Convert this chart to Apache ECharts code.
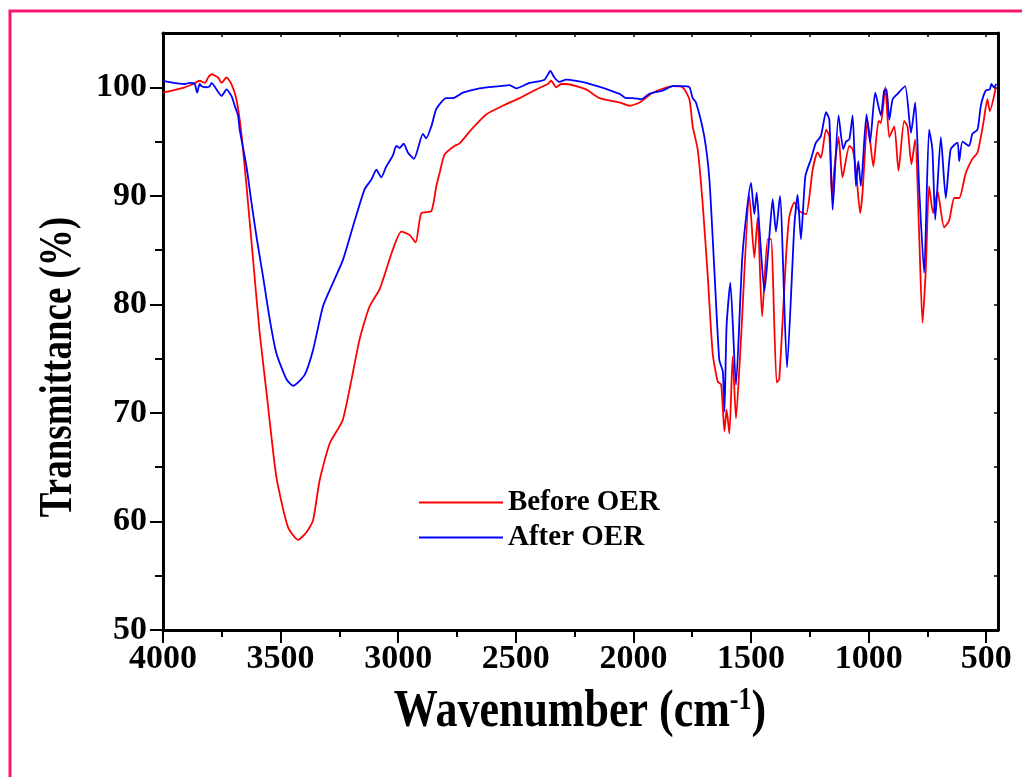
<!DOCTYPE html>
<html>
<head>
<meta charset="utf-8">
<title>FTIR before / after OER</title>
<script src="https://cdn.jsdelivr.net/npm/echarts@6/dist/echarts.min.js"></script>
<style>
  html, body { margin: 0; padding: 0; background: #fff; }
  #chart { width: 1022px; height: 777px; }
</style>
</head>
<body>
<div id="chart"></div>
<script>
// wavenumber (cm-1) and transmittance (%)
const beforeWn = [4000, 3907, 3872, 3844, 3822, 3808, 3794, 3766, 3751, 3730, 3709, 3688, 3667, 3645, 3617, 3589, 3560, 3518, 3469, 3426,
  3390, 3362, 3334, 3291, 3235, 3164, 3122, 3079, 3022, 2987, 2952, 2926, 2902, 2859, 2838, 2824, 2803, 2760, 2740, 2697,
  2668, 2626, 2555, 2484, 2413, 2364, 2350, 2328, 2307, 2286, 2201, 2144, 2059, 2017, 1974, 1918, 1833, 1791, 1762, 1748,
  1727, 1706, 1684, 1663, 1642, 1627, 1613, 1604, 1592, 1578, 1564, 1542, 1507, 1486, 1472, 1453, 1429, 1415, 1391, 1380,
  1351, 1337, 1316, 1295, 1266, 1238, 1217, 1203, 1181, 1167, 1156, 1146, 1128, 1111, 1082, 1068, 1054, 1036, 1026, 1005,
  997, 980, 958, 948, 929, 912, 891, 873, 849, 835, 818, 802, 785, 771, 757, 743, 726, 707, 679, 658,
  636, 615, 587, 559, 537, 513, 495, 485, 459];
const beforeT = [99.5, 100.0, 100.3, 100.6, 100.4, 100.9, 101.2, 100.9, 100.4, 100.9, 100.3, 98.9, 95.8, 90.9, 84.1, 77.4, 71.9, 64.1, 59.5, 58.3,
  59.0, 60.1, 63.8, 67.2, 69.4, 76.8, 79.8, 81.4, 85.1, 86.7, 86.4, 85.7, 88.4, 88.6, 90.9, 92.1, 93.8, 94.6, 94.8, 95.9,
  96.6, 97.5, 98.3, 99.0, 99.8, 100.3, 100.6, 100.0, 100.3, 100.3, 99.8, 99.0, 98.6, 98.3, 98.6, 99.5, 100.1, 100.0, 98.9, 96.4,
  94.3, 89.4, 82.6, 75.5, 72.9, 72.6, 68.3, 70.3, 68.1, 75.2, 69.5, 77.1, 90.0, 84.3, 88.0, 78.9, 86.0, 86.0, 72.8, 73.1,
  84.4, 88.1, 89.4, 88.6, 88.3, 92.4, 94.0, 93.5, 96.1, 95.5, 90.0, 92.4, 95.4, 91.7, 94.6, 94.3, 92.4, 88.4, 90.3, 97.0,
  95.8, 92.7, 96.9, 96.7, 100.0, 95.4, 96.4, 92.3, 96.9, 96.4, 92.9, 95.2, 86.3, 78.3, 83.2, 90.9, 88.4, 90.4, 87.1, 87.7,
  89.8, 89.8, 92.1, 93.4, 94.0, 96.6, 98.9, 97.8, 100.0];

const afterWn = [4000, 3907, 3886, 3865, 3855, 3844, 3836, 3815, 3801, 3794, 3751, 3730, 3709, 3695, 3681, 3674, 3645, 3624, 3603, 3575,
  3546, 3518, 3475, 3447, 3398, 3362, 3320, 3277, 3235, 3192, 3143, 3114, 3093, 3072, 3051, 3023, 3008, 2994, 2977, 2959,
  2933, 2895, 2881, 2859, 2838, 2796, 2768, 2725, 2654, 2569, 2527, 2498, 2442, 2378, 2353, 2336, 2315, 2286, 2201, 2059,
  2031, 2003, 1967, 1932, 1876, 1833, 1791, 1762, 1748, 1734, 1699, 1677, 1656, 1635, 1620, 1613, 1604, 1588, 1564, 1536,
  1500, 1486, 1476, 1465, 1443, 1422, 1408, 1394, 1377, 1347, 1316, 1302, 1288, 1269, 1245, 1224, 1203, 1181, 1167, 1153,
  1128, 1108, 1096, 1082, 1068, 1054, 1044, 1033, 1009, 994, 972, 948, 934, 924, 912, 898, 877, 845, 820, 802,
  785, 764, 743, 729, 717, 693, 672, 651, 622, 615, 601, 573, 559, 537, 523, 502, 485, 478, 467, 457];
const afterT = [100.6, 100.3, 100.4, 100.3, 99.5, 100.3, 100.1, 100.0, 100.1, 100.4, 99.2, 99.8, 99.2, 98.3, 97.4, 96.1, 92.7, 89.4, 86.3, 82.6,
  78.6, 75.5, 73.1, 72.5, 73.5, 75.8, 79.8, 82.0, 84.1, 87.2, 90.6, 91.5, 92.4, 91.7, 92.7, 93.7, 94.6, 94.4, 94.8, 94.0,
  93.4, 95.7, 95.3, 96.4, 98.0, 99.0, 99.0, 99.5, 99.9, 100.1, 100.2, 99.9, 100.4, 100.7, 101.5, 100.9, 100.5, 100.7, 100.4, 99.4,
  99.0, 99.0, 98.9, 99.4, 99.7, 100.1, 100.1, 100.0, 99.0, 98.6, 95.5, 91.5, 83.2, 74.9, 73.8, 70.1, 78.0, 82.0, 72.6, 84.7,
  91.2, 88.3, 90.3, 87.2, 81.2, 86.3, 89.7, 86.7, 90.0, 74.2, 87.2, 90.1, 86.0, 91.8, 93.4, 94.9, 95.5, 97.7, 97.0, 88.7,
  97.4, 94.3, 95.0, 95.2, 97.4, 90.9, 93.2, 90.9, 97.5, 94.9, 99.5, 97.4, 99.7, 99.8, 97.0, 98.9, 99.4, 100.1, 95.8, 98.6,
  90.6, 82.9, 96.1, 94.3, 87.8, 95.4, 89.8, 94.3, 94.9, 93.2, 95.0, 94.6, 95.7, 96.1, 98.3, 99.7, 99.8, 100.3, 100.0, 100.3];

const xMajor = [4000, 3500, 3000, 2500, 2000, 1500, 1000, 500];
const xMinor = [3750, 3250, 2750, 2250, 1750, 1250, 750];
const yMajor = [50, 60, 70, 80, 90, 100];
const yMinor = [55, 65, 75, 85, 95];

const FONT = '"Liberation Serif", "Times New Roman", serif';
const zip = (xs, ys) => xs.map((x, i) => [x, ys[i]]);

const chart = echarts.init(document.getElementById('chart'));

const xBase = { type: 'value', min: 450, max: 4000, inverse: true, splitLine: { show: false } };
const yBase = { type: 'value', min: 50, max: 105, splitLine: { show: false } };
const axisLine = { show: true, onZero: false, lineStyle: { color: '#000', width: 3 } };

chart.setOption({
  animation: false,
  grid: { left: 163, right: 24, top: 33, bottom: 147 },
  legend: {
    data: ['Before OER', 'After OER'],
    orient: 'vertical',
    left: 419,
    top: 488,
    padding: 0,
    itemGap: 6,
    itemWidth: 84,
    itemHeight: 2,
    icon: 'rect',
    textStyle: { fontFamily: FONT, fontWeight: 'bold', fontSize: 29, color: '#000' }
  },
  xAxis: [
    Object.assign({}, xBase, {
      position: 'bottom',
      axisLine: axisLine,
      axisTick: { show: true, customValues: xMajor, length: 13, lineStyle: { color: '#000', width: 2 } },
      axisLabel: {
        customValues: xMajor, margin: 12, formatter: v => String(v),
        fontFamily: FONT, fontWeight: 'bold', fontSize: 34, color: '#000'
      }
    }),
    Object.assign({}, xBase, {
      position: 'bottom',
      axisLine: { show: false },
      axisTick: { show: true, customValues: xMinor, length: 7, lineStyle: { color: '#000', width: 2 } },
      axisLabel: { show: false }
    }),
    Object.assign({}, xBase, {
      position: 'top',
      axisLine: axisLine,
      axisTick: { show: true, inside: true, customValues: xMajor.concat(xMinor), length: 4, lineStyle: { color: '#000', width: 1.5 } },
      axisLabel: { show: false }
    })
  ],
  yAxis: [
    Object.assign({}, yBase, {
      position: 'left',
      axisLine: axisLine,
      axisTick: { show: true, customValues: yMajor, length: 13, lineStyle: { color: '#000', width: 2 } },
      axisLabel: { customValues: yMajor, margin: 16, fontFamily: FONT, fontWeight: 'bold', fontSize: 34, color: '#000' }
    }),
    Object.assign({}, yBase, {
      position: 'left',
      axisLine: { show: false },
      axisTick: { show: true, customValues: yMinor, length: 8, lineStyle: { color: '#000', width: 2 } },
      axisLabel: { show: false }
    }),
    Object.assign({}, yBase, {
      position: 'right',
      axisLine: axisLine,
      axisTick: { show: true, inside: true, customValues: yMajor.concat(yMinor), length: 4, lineStyle: { color: '#000', width: 1.5 } },
      axisLabel: { show: false }
    })
  ],
  series: [
    {
      name: 'Before OER',
      type: 'line',
      xAxisIndex: 0,
      yAxisIndex: 0,
      symbol: 'none',
      smooth: 0.2,
      color: '#ff0000',
      lineStyle: { color: '#ff0000', width: 1.8 },
      data: zip(beforeWn, beforeT)
    },
    {
      name: 'After OER',
      type: 'line',
      xAxisIndex: 0,
      yAxisIndex: 0,
      symbol: 'none',
      smooth: 0.2,
      color: '#0000ff',
      lineStyle: { color: '#0000ff', width: 1.8 },
      data: zip(afterWn, afterT)
    }
  ],
  graphic: [
    {
      type: 'rect',
      shape: { x: 10, y: 11, width: 1100, height: 900 },
      style: { fill: 'none', stroke: '#f5166f', lineWidth: 3 },
      silent: true
    },
    {
      type: 'text',
      x: 580,
      y: 712,
      scaleY: 1.2,
      style: {
        text: 'Wavenumber (cm{sup|-1})',
        fontFamily: FONT,
        fontWeight: 'bold',
        fontSize: 44,
        fill: '#000',
        align: 'center',
        verticalAlign: 'middle',
        rich: {
          sup: { fontFamily: FONT, fontWeight: 'bold', fontSize: 26, verticalAlign: 'top', fill: '#000' }
        }
      }
    },
    {
      type: 'text',
      x: 59,
      y: 367,
      rotation: Math.PI / 2,
      scaleY: 1.25,
      style: {
        text: 'Transmittance (%)',
        fontFamily: FONT,
        fontWeight: 'bold',
        fontSize: 37,
        fill: '#000',
        align: 'center',
        verticalAlign: 'middle'
      }
    }
  ]
});
</script>
</body>
</html>
